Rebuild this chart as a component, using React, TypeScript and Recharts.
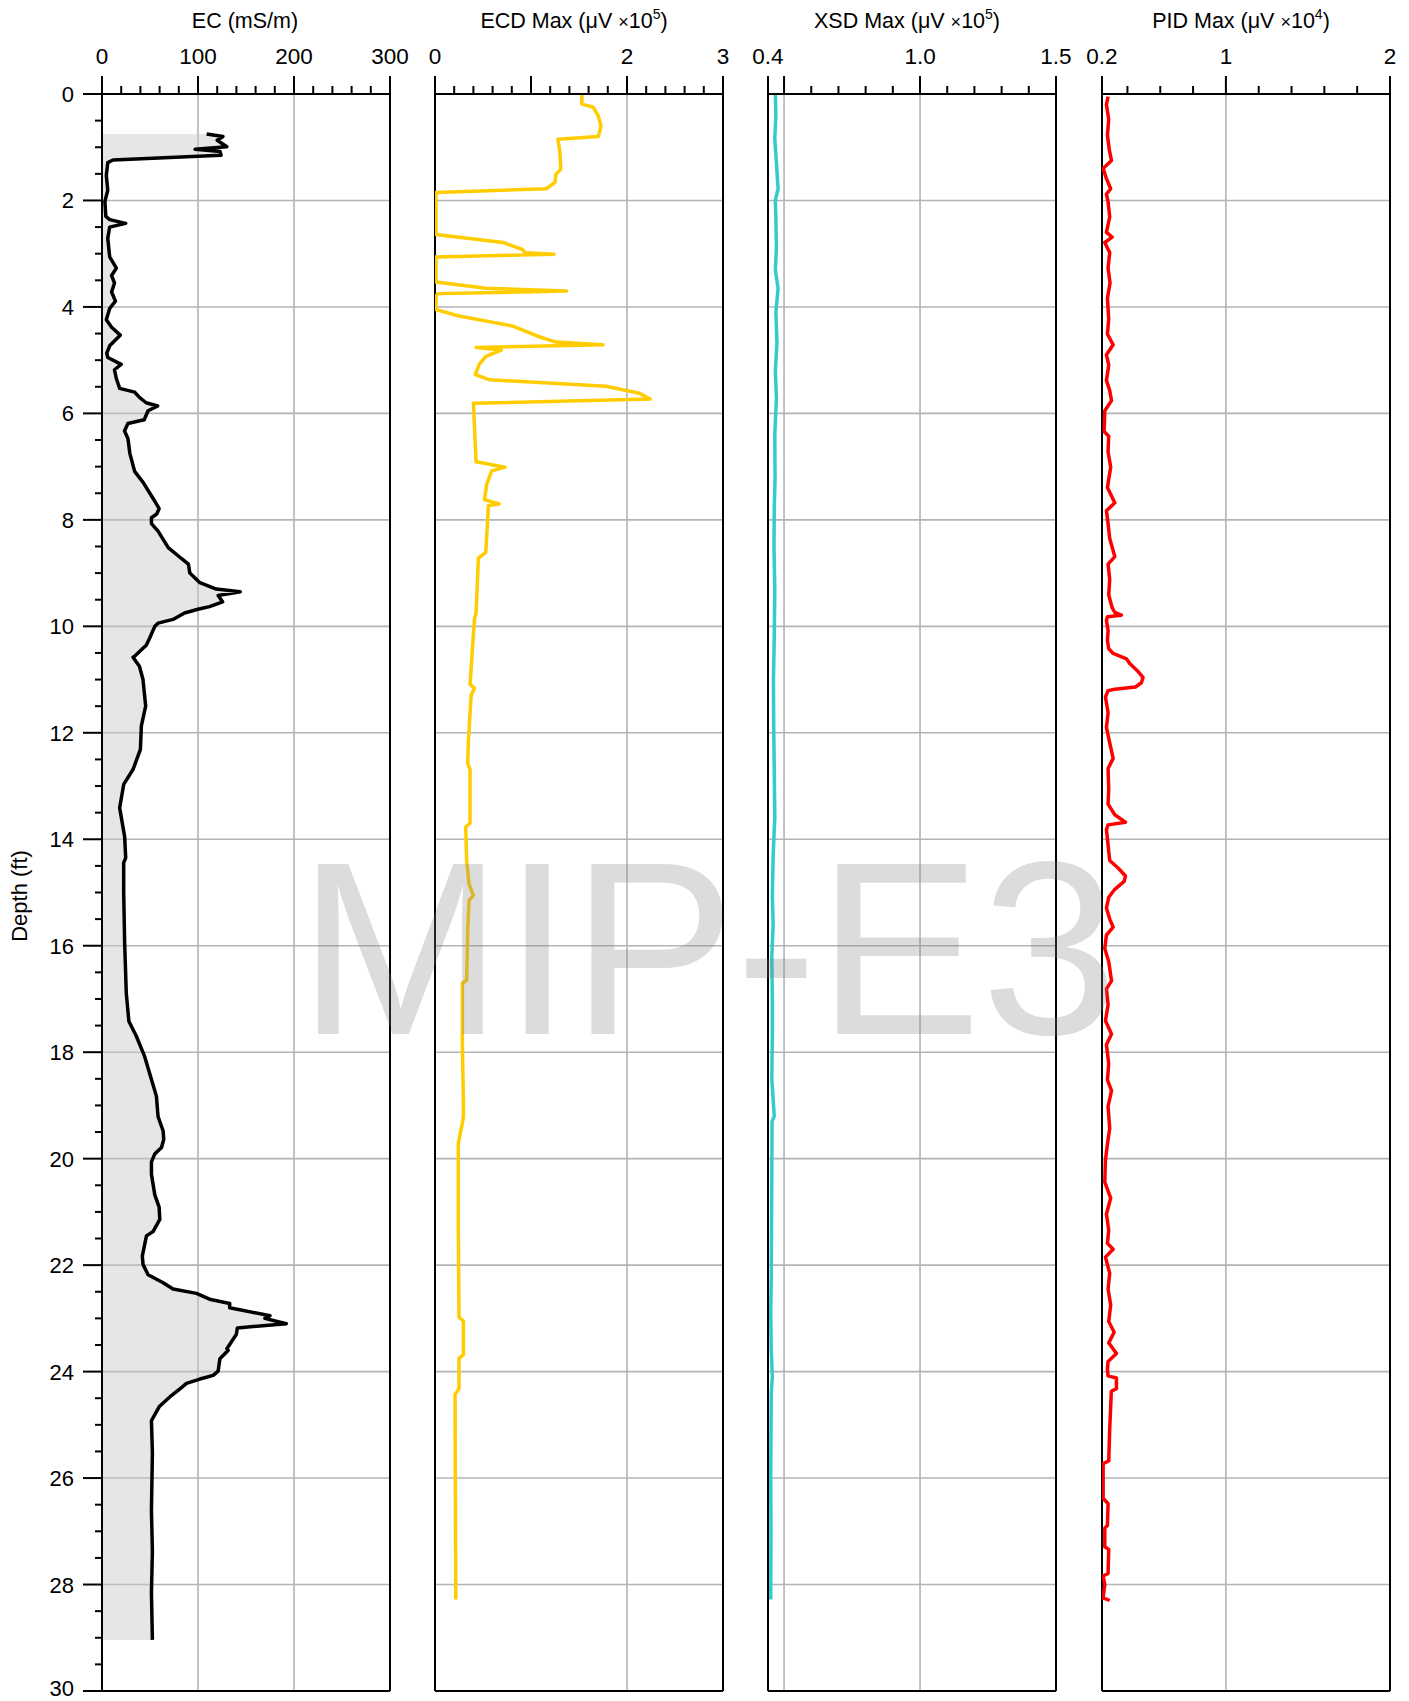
import React from 'react';
import { ComposedChart, Line, Area, XAxis, YAxis, CartesianGrid, ReferenceLine } from 'recharts';

// ---------- data: [depth (ft), value] ----------
const EC_PROFILE: [number, number][] = [
  [0.75, 109], [0.8, 126], [0.87, 120], [0.99, 130], [1.04, 97], [1.08, 123], [1.15, 124], [1.24, 11.5],
  [1.29, 6], [1.53, 4.5], [1.81, 6], [2.02, 3], [2.3, 4], [2.36, 8], [2.43, 24.7], [2.5, 8], [2.71, 6],
  [3.06, 8], [3.27, 15], [3.41, 10], [3.55, 13], [3.72, 10], [3.89, 14], [4.03, 8], [4.24, 4.5], [4.38, 10],
  [4.53, 19], [4.73, 8], [4.87, 5], [4.95, 6], [5.08, 20], [5.18, 13], [5.35, 15], [5.53, 18.4], [5.6, 34],
  [5.7, 39], [5.8, 46], [5.86, 58], [5.95, 48], [6.12, 44], [6.19, 27], [6.33, 23.5], [6.47, 27], [6.75, 29],
  [7.09, 34], [7.3, 43], [7.65, 55], [7.79, 59.5], [7.89, 57], [7.96, 51.5], [8.07, 51.5], [8.21, 58.4],
  [8.52, 69], [8.73, 83], [8.83, 90], [9.0, 91.5], [9.18, 102], [9.3, 119], [9.35, 144], [9.42, 121],
  [9.54, 125.6], [9.63, 112], [9.68, 100], [9.75, 86], [9.87, 74], [9.94, 58.4], [10.0, 55], [10.22, 49.7],
  [10.36, 46], [10.41, 42.7], [10.56, 34], [10.58, 32.3], [10.75, 39], [11.0, 42.7], [11.5, 45.5],
  [11.87, 41], [12.31, 40], [12.69, 32.3], [12.97, 22.6], [13.41, 18.4], [13.95, 23.6], [14.35, 24.7],
  [14.44, 22.6], [15.0, 22.6], [15.95, 23.6], [16.89, 25.3], [17.42, 28], [17.7, 35.8], [18.08, 44.4],
  [18.6, 53], [18.83, 56.7], [19.21, 58.4], [19.48, 63.7], [19.64, 64.3], [19.79, 62], [19.91, 55],
  [20.06, 51.5], [20.29, 51.5], [20.68, 55], [20.91, 59.5], [21.14, 60.2], [21.37, 53.2], [21.45, 46.3],
  [21.83, 42], [21.99, 42.8], [22.18, 48], [22.33, 63.7], [22.45, 74], [22.53, 98.4], [22.64, 112],
  [22.72, 133], [22.8, 133], [22.95, 175], [23.0, 169.7], [23.1, 192], [23.18, 141], [23.3, 140],
  [23.49, 133], [23.57, 130], [23.6, 131.5], [23.76, 122.8], [23.99, 121], [24.07, 115.8], [24.14, 102],
  [24.22, 88], [24.3, 82.8], [24.45, 72.3], [24.65, 60], [24.84, 54], [24.92, 51.5], [25.53, 52.5],
  [26.61, 51.5], [27.38, 52.5], [28.15, 51.5], [29.04, 52.5],
];

const ECD_PROFILE: [number, number][] = [
  [0, 1.53], [0.19, 1.53], [0.25, 1.65], [0.41, 1.7], [0.6, 1.73], [0.8, 1.7], [0.85, 1.28], [1.07, 1.3],
  [1.41, 1.31], [1.51, 1.26], [1.66, 1.25], [1.78, 1.16], [1.85, 0.01], [2.64, 0.01], [2.79, 0.71],
  [2.92, 0.91], [2.98, 0.94], [3.01, 1.24], [3.06, 0.01], [3.53, 0.01], [3.65, 0.53], [3.7, 1.37],
  [3.75, 0.03], [3.8, 0.01], [4.05, 0.01], [4.17, 0.25], [4.36, 0.81], [4.55, 1.07], [4.66, 1.26],
  [4.71, 1.75], [4.76, 0.43], [4.81, 0.69], [4.93, 0.53], [5.08, 0.46], [5.27, 0.42], [5.37, 0.57],
  [5.49, 1.78], [5.62, 2.13], [5.73, 2.24], [5.81, 0.4], [6.49, 0.417], [6.91, 0.428], [7.01, 0.73],
  [7.08, 0.591], [7.33, 0.539], [7.62, 0.515], [7.7, 0.668], [7.73, 0.557], [8.61, 0.529], [8.72, 0.452],
  [9.74, 0.428], [9.88, 0.41], [11.09, 0.365], [11.16, 0.41], [11.3, 0.376], [12.15, 0.348], [12.57, 0.341],
  [12.69, 0.365], [13.7, 0.365], [13.77, 0.32], [14.41, 0.33], [14.84, 0.355], [14.98, 0.383], [15.05, 0.4],
  [15.15, 0.355], [15.69, 0.341], [16.65, 0.33], [16.7, 0.285], [17.81, 0.285], [18.94, 0.296],
  [19.22, 0.296], [19.72, 0.243], [21.35, 0.243], [22.98, 0.25], [23.05, 0.296], [23.68, 0.296],
  [23.75, 0.25], [24.32, 0.25], [24.43, 0.209], [28.28, 0.216],
];

const XSD_PROFILE: [number, number][] = [
  [0, 0.468], [0.4, 0.47], [0.84, 0.466], [1.3, 0.472], [1.78, 0.478], [2.0, 0.468], [2.34, 0.47],
  [2.9, 0.472], [3.3, 0.468], [3.65, 0.478], [4.1, 0.47], [4.68, 0.474], [5.2, 0.468], [5.71, 0.472],
  [6.4, 0.466], [7.21, 0.467], [7.8, 0.464], [8.52, 0.463], [9.3, 0.466], [10.21, 0.464], [11.0, 0.461],
  [11.89, 0.462], [12.7, 0.464], [13.58, 0.466], [14.3, 0.46], [15.07, 0.457], [15.6, 0.46], [16.2, 0.455],
  [17.0, 0.457], [17.7, 0.457], [18.5, 0.455], [19.2, 0.464], [19.3, 0.456], [20.3, 0.455], [21.2, 0.454],
  [22.2, 0.453], [22.9, 0.451], [23.6, 0.453], [24.1, 0.457], [24.4, 0.453], [25.2, 0.452], [25.9, 0.451],
  [27.0, 0.452], [28.28, 0.451],
];

const PID_PROFILE: [number, number][] = [
  [0.05, 0.282], [0.2, 0.272], [0.48, 0.286], [0.77, 0.278], [1.06, 0.29], [1.25, 0.303], [1.4, 0.252],
  [1.59, 0.272], [1.78, 0.298], [1.88, 0.272], [2.02, 0.282], [2.31, 0.292], [2.6, 0.272], [2.69, 0.307],
  [2.79, 0.262], [2.98, 0.292], [3.27, 0.282], [3.55, 0.294], [3.84, 0.278], [4.23, 0.286], [4.51, 0.278],
  [4.71, 0.313], [4.9, 0.272], [5.09, 0.286], [5.38, 0.272], [5.57, 0.292], [5.76, 0.303], [5.95, 0.262],
  [6.34, 0.258], [6.43, 0.286], [6.72, 0.282], [7.01, 0.298], [7.39, 0.278], [7.68, 0.323], [7.83, 0.272],
  [8.07, 0.282], [8.35, 0.292], [8.69, 0.323], [8.83, 0.282], [9.12, 0.292], [9.41, 0.286], [9.65, 0.307],
  [9.74, 0.323], [9.79, 0.363], [9.82, 0.278], [9.89, 0.272], [10.08, 0.282], [10.27, 0.278], [10.42, 0.286],
  [10.51, 0.313], [10.61, 0.394], [10.7, 0.414], [10.85, 0.465], [10.96, 0.495], [11.06, 0.485],
  [11.14, 0.449], [11.18, 0.323], [11.21, 0.282], [11.33, 0.266], [11.62, 0.282], [11.9, 0.272],
  [12.19, 0.292], [12.48, 0.313], [12.67, 0.282], [13.06, 0.286], [13.34, 0.282], [13.54, 0.323],
  [13.68, 0.388], [13.73, 0.282], [13.82, 0.272], [14.11, 0.282], [14.4, 0.292], [14.54, 0.343],
  [14.69, 0.388], [14.79, 0.38], [14.94, 0.323], [15.09, 0.286], [15.29, 0.272], [15.5, 0.292],
  [15.65, 0.313], [15.8, 0.272], [16.05, 0.262], [16.3, 0.286], [16.66, 0.303], [16.81, 0.272],
  [17.11, 0.282], [17.41, 0.266], [17.66, 0.303], [17.86, 0.272], [18.22, 0.286], [18.52, 0.278],
  [18.72, 0.303], [19.02, 0.282], [19.43, 0.292], [19.73, 0.278], [20.03, 0.266], [20.44, 0.262],
  [20.74, 0.298], [21.04, 0.272], [21.34, 0.286], [21.59, 0.278], [21.7, 0.313], [21.85, 0.266],
  [22.15, 0.292], [22.45, 0.282], [22.75, 0.298], [23.06, 0.286], [23.26, 0.319], [23.46, 0.286],
  [23.66, 0.333], [23.81, 0.282], [23.96, 0.278], [24.08, 0.282], [24.12, 0.333], [24.32, 0.333],
  [24.37, 0.302], [25.07, 0.292], [25.68, 0.286], [25.73, 0.252], [26.38, 0.252], [26.48, 0.282],
  [26.89, 0.278], [26.94, 0.262], [27.29, 0.262], [27.34, 0.286], [27.79, 0.282], [27.84, 0.252],
  [28.0, 0.262], [28.25, 0.252], [28.3, 0.292],
];

// ---------- axes ----------
const DEPTH_TICKS = [
  0, 0.5, 1, 1.5, 2, 2.5, 3, 3.5, 4, 4.5, 5, 5.5, 6, 6.5, 7, 7.5, 8, 8.5, 9, 9.5, 10, 10.5, 11, 11.5, 12,
  12.5, 13, 13.5, 14, 14.5, 15, 15.5, 16, 16.5, 17, 17.5, 18, 18.5, 19, 19.5, 20, 20.5, 21, 21.5, 22, 22.5,
  23, 23.5, 24, 24.5, 25, 25.5, 26, 26.5, 27, 27.5, 28, 28.5, 29, 29.5, 30,
];
const DEPTH_GRID = [2, 4, 6, 8, 10, 12, 14, 16, 18, 20, 22, 24, 26, 28];

const EC_TICKS = [0, 20, 40, 60, 80, 100, 120, 140, 160, 180, 200, 220, 240, 260, 280, 300];
const ECD_TICKS = [0, 0.2, 0.4, 0.6, 0.8, 1, 1.2, 1.4, 1.6, 1.8, 2, 2.2, 2.4, 2.6, 2.8, 3];
const XSD_TICKS = [0.441, 0.5, 0.6, 0.7, 0.8, 0.9, 1.0, 1.1, 1.2, 1.3, 1.4, 1.5];
const PID_TICKS = [0.245, 0.4, 0.6, 0.8, 1, 1.2, 1.4, 1.6, 1.8, 2];

const PLOT_TOP = 94;
const PLOT_BOTTOM = 1691;
const PAGE_W = 1409;
const PAGE_H = 1701;
const FONT = '"Liberation Sans", Arial, Helvetica, sans-serif';

type PanelCfg = {
  key: string;
  left: number;
  right: number;
  domain: [number, number];
  ticks: number[];
  major: number[];
  labels: [number, string][];
  grid: number[];
  color: string;
  profile: [number, number][];
  fill?: boolean;
  showY?: boolean;
};

const PANELS: PanelCfg[] = [
  {
    key: 'ec', left: 102, right: 390, domain: [0, 300], ticks: EC_TICKS,
    major: [0, 100, 200, 300], labels: [[0, '0'], [100, '100'], [200, '200'], [300, '300']],
    grid: [100, 200], color: '#000000', profile: EC_PROFILE, fill: true, showY: true,
  },
  {
    key: 'ecd', left: 435, right: 723, domain: [0, 3], ticks: ECD_TICKS,
    major: [0, 1, 2, 3], labels: [[0, '0'], [2, '2'], [3, '3']],
    grid: [2], color: '#ffcc00', profile: ECD_PROFILE,
  },
  {
    key: 'xsd', left: 768, right: 1056, domain: [0.441, 1.5], ticks: XSD_TICKS,
    major: [0.441, 0.5, 1.0, 1.5], labels: [[0.441, '0.4'], [1.0, '1.0'], [1.5, '1.5']],
    grid: [0.5, 1.0], color: '#33cccc', profile: XSD_PROFILE,
  },
  {
    key: 'pid', left: 1102, right: 1390, domain: [0.245, 2], ticks: PID_TICKS,
    major: [0.245, 1, 2], labels: [[0.245, '0.2'], [1, '1'], [2, '2']],
    grid: [1], color: '#ff0000', profile: PID_PROFILE,
  },
];

const near = (a: number, b: number) => Math.abs(a - b) < 1e-6;

function makeXTick(cfg: PanelCfg) {
  return (props: any) => {
    const { x, payload } = props;
    const v = Number(payload.value);
    const isMajor = cfg.major.some((m) => near(m, v));
    const lab = cfg.labels.find(([m]) => near(m, v));
    return (
      <g>
        <line x1={x} x2={x} y1={PLOT_TOP} y2={PLOT_TOP - (isMajor ? 18 : 8)} stroke="#000" strokeWidth={2} />
        {lab ? (
          <text x={x} y={64} textAnchor="middle" fontSize={22.5} fontFamily={FONT} fill="#000">
            {lab[1]}
          </text>
        ) : null}
      </g>
    );
  };
}

function YTick(props: any) {
  const { y, payload } = props;
  const v = Number(payload.value);
  const isMajor = near(v % 2, 0);
  const baseline = Math.min(y + 8, PAGE_H - 5);
  return (
    <g>
      <line x1={102 - (isMajor ? 19 : 7)} x2={102} y1={y} y2={y} stroke="#000" strokeWidth={2} />
      {isMajor ? (
        <text x={74} y={baseline} textAnchor="end" fontSize={22} fontFamily={FONT} fill="#000">
          {v}
        </text>
      ) : null}
    </g>
  );
}

function Panel({ cfg }: { cfg: PanelCfg }) {
  const data = cfg.profile.map(([depth, v]) => ({ depth, v }));
  const pad = 20;
  const divLeft = cfg.showY ? 0 : cfg.left - pad;
  const width = cfg.right + pad - divLeft;
  const margin = { top: 0, right: pad, bottom: PAGE_H - PLOT_BOTTOM, left: cfg.showY ? 0 : pad };
  return (
    <div style={{ position: 'absolute', left: divLeft, top: 0 }}>
      <ComposedChart width={width} height={PAGE_H} data={data} layout="vertical" margin={margin}>
        <CartesianGrid
          stroke="#b4b4b4"
          strokeWidth={1.6}
          horizontalValues={DEPTH_GRID}
          verticalValues={cfg.grid}
        />
        <XAxis
          type="number"
          orientation="top"
          dataKey="v"
          domain={cfg.domain}
          allowDataOverflow
          ticks={cfg.ticks}
          interval={0}
          height={PLOT_TOP}
          tickLine={false}
          axisLine={{ stroke: '#000', strokeWidth: 2 }}
          tick={makeXTick(cfg)}
        />
        {cfg.showY ? (
          <YAxis
            type="number"
            dataKey="depth"
            domain={[0, 30]}
            allowDataOverflow
            ticks={DEPTH_TICKS}
            interval={0}
            width={102}
            tickLine={false}
            axisLine={{ stroke: '#000', strokeWidth: 2 }}
            tick={<YTick />}
          />
        ) : (
          <YAxis type="number" dataKey="depth" domain={[0, 30]} allowDataOverflow hide />
        )}
        <ReferenceLine x={cfg.domain[0]} stroke="#000" strokeWidth={2} />
        <ReferenceLine x={cfg.domain[1]} stroke="#000" strokeWidth={2} />
        <ReferenceLine y={30} stroke="#000" strokeWidth={2} />
        {cfg.fill ? (
          <Area
            type="linear"
            dataKey="v"
            baseValue={0}
            stroke="#000"
            strokeWidth={3.5}
            strokeLinejoin="round"
            fill="#c8c8c8"
            fillOpacity={0.45}
            dot={false}
            activeDot={false}
            isAnimationActive={false}
          />
        ) : (
          <Line
            type="linear"
            dataKey="v"
            stroke={cfg.color}
            strokeWidth={3.5}
            strokeLinejoin="round"
            dot={false}
            activeDot={false}
            isAnimationActive={false}
          />
        )}
      </ComposedChart>
    </div>
  );
}

function Title({ cx, main, exp }: { cx: number; main: string; exp?: string }) {
  if (!exp) {
    return (
      <text x={cx} y={28} textAnchor="middle" fontSize={21.5} fontFamily={FONT} fill="#000">
        {main}
      </text>
    );
  }
  return (
    <text x={cx} y={28} textAnchor="middle" fontSize={21.5} fontFamily={FONT} fill="#000">
      {main + ' (\u03bcV '}
      <tspan fontSize={18}>{'\u00d7'}</tspan>
      {'10'}
      <tspan fontSize={14} dy={-9}>{exp}</tspan>
      <tspan dy={9}>{')'}</tspan>
    </text>
  );
}

export default function App() {
  return (
    <div
      style={{
        position: 'absolute', left: 0, top: 0, width: PAGE_W, height: PAGE_H,
        background: '#fff', fontFamily: FONT, overflow: 'hidden',
      }}
    >
      {PANELS.map((p) => (
        <Panel key={p.key} cfg={p} />
      ))}
      <svg
        width={PAGE_W}
        height={PAGE_H}
        style={{ position: 'absolute', left: 0, top: 0, pointerEvents: 'none' }}
      >
        <Title cx={245} main="EC (mS/m)" />
        <Title cx={574} main="ECD Max" exp="5" />
        <Title cx={907} main="XSD Max" exp="5" />
        <Title cx={1241} main="PID Max" exp="4" />
        <text
          x={27}
          y={896}
          transform="rotate(-90 27 896)"
          textAnchor="middle"
          fontSize={22}
          fontFamily={FONT}
          fill="#000"
        >
          Depth (ft)
        </text>
        <text x={298} y={1034} fontSize={246} fontFamily={FONT} fill="#808080" fillOpacity={0.28}>
          MIP-E3
        </text>
      </svg>
    </div>
  );
}
